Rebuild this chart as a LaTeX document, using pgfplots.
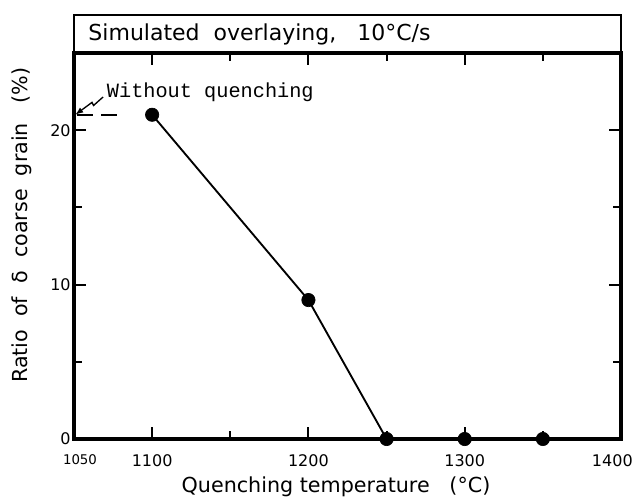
\documentclass[border=0pt]{standalone}
\usepackage{fontspec}
\setmainfont{DejaVu Sans}
\newfontfamily\monof{Liberation Mono}
\usepackage{pgfplots}
\pgfplotsset{compat=1.18}
\usetikzlibrary{arrows.meta}
\begin{document}
\begin{tikzpicture}
\begin{axis}[
  at={(0pt,0pt)}, anchor=south west,
  scale only axis, width=410.25pt, height=289.5pt,
  xmin=1050, xmax=1400, ymin=0, ymax=25,
  clip=false,
  axis line style={line width=2.4pt},
  tick style={line width=1.4pt, black},
  tick align=inside,
  major tick length=9pt, minor tick length=6pt,
  xtick={1050,1100,1200,1300,1400},
  xticklabels={{\raisebox{2.5pt}{\makebox[0pt][c]{\hspace{9pt}\fontsize{10}{12}\selectfont 1050}}},1100,1200,1300,{\makebox[0pt][c]{\hspace{-13pt}1400}}},
  minor xtick={1150,1250,1350},
  ytick={0,10,20}, minor ytick={5,15},
  /pgf/number format/assume math mode=true,
  ticklabel style={font=\fontsize{12}{14}\selectfont},
  xticklabel style={yshift=-8pt},
  yticklabel style={xshift=1pt},
  xlabel={Quenching temperature\ \ \ (°C)},
  ylabel={Ratio\ \ of\ \ δ\ \ coarse\ \ grain\ \ \ (\%)},
  xlabel style={font=\fontsize{15.5}{18}\selectfont, at={(axis description cs:0.479,0)}, anchor=center, yshift=-36pt},
  ylabel style={font=\fontsize{15.5}{18}\selectfont, at={(axis description cs:-0.095,0.554)}, anchor=center},
]
\addplot[black, line width=1.4pt, mark=*, mark size=5pt, mark options={fill=black, line width=0.5pt}]
  coordinates {(1100,21) (1200,9) (1250,0) (1300,0) (1350,0)};
\addplot[black, line width=1.4pt, dash pattern=on 12pt off 6.5pt, dash phase=-2pt]
  coordinates {(1050,21) (1079,21)};
\draw[black, line width=2.4pt] (rel axis cs:0,0) rectangle (rel axis cs:1,1);
\draw[black, line width=2.2pt] (rel axis cs:0,1) rectangle (rel axis cs:1,1.0984);
\node[anchor=west, inner sep=0pt, font=\fontsize{16.5}{19}\selectfont] at (rel axis cs:0.026,1.049) {Simulated\ \ overlaying,\ \ \ 10°C/s};
\node[anchor=base west, inner sep=0pt, font=\monof\fontsize{15.2}{18}\selectfont] at (axis cs:1070.9,22.1) {Without quenching};
\draw[black, line width=1pt, -{Latex[length=6pt]}] (axis cs:1068.6,22.15) -- (axis cs:1062.5,21.6) -- (axis cs:1061.5,21.8) -- (axis cs:1050.8,21.0);
\end{axis}
\pgfresetboundingbox
\path[use as bounding box] (-55.5pt,-43.5pt) rectangle (423.75pt,329.25pt);
\end{tikzpicture}
\end{document}
